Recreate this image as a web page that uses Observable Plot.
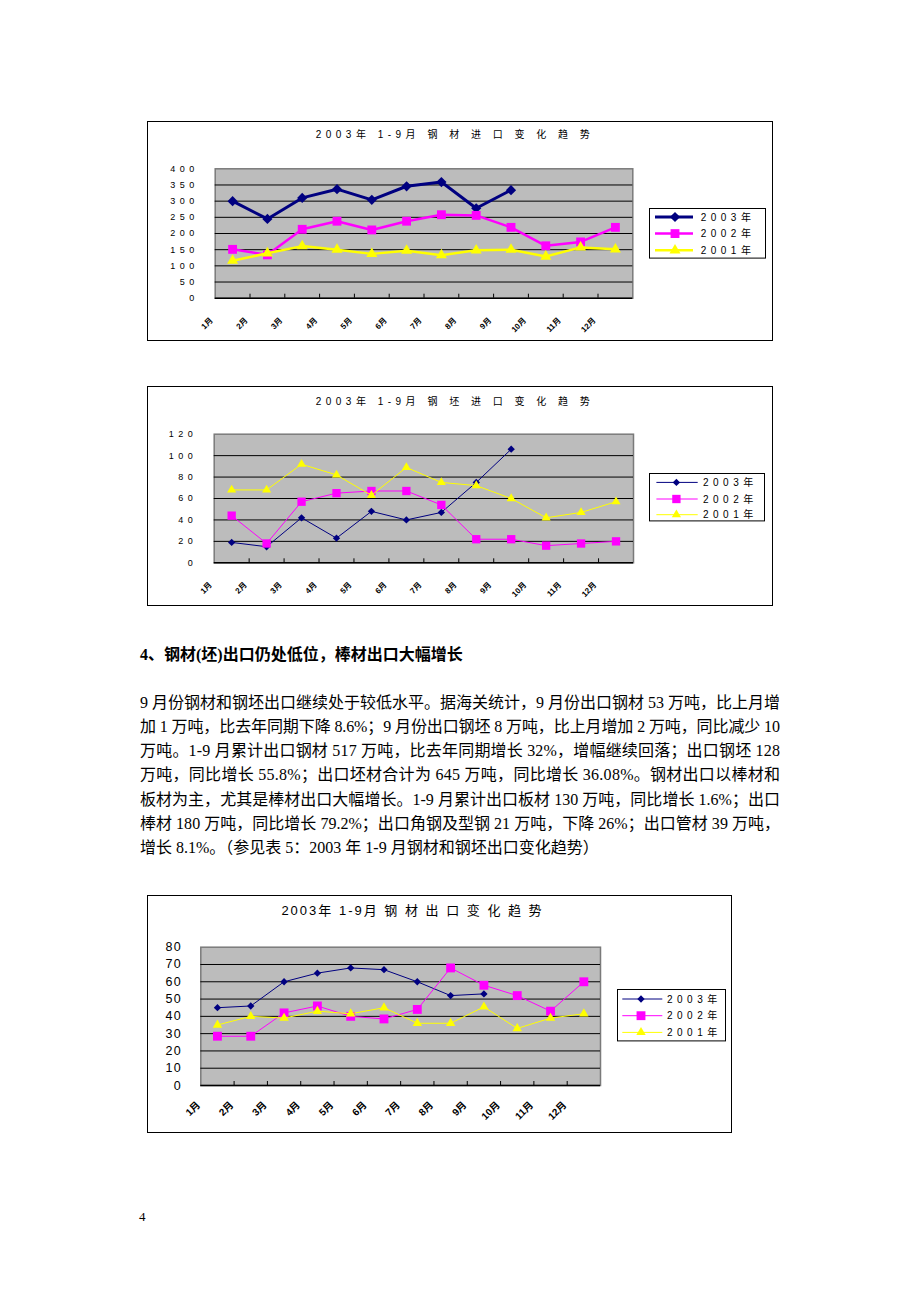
<!DOCTYPE html>
<html><head><meta charset="utf-8">
<script src="https://cdn.jsdelivr.net/npm/d3@7"></script>
<script src="https://cdn.jsdelivr.net/npm/@observablehq/plot@0.6"></script>
<style>
body{margin:0;background:#fff;width:920px;height:1302px;position:relative;overflow:hidden;font-family:"Liberation Serif","Noto Sans CJK SC",serif;color:#000;}
.frame{position:absolute;border:1px solid #000;box-sizing:border-box;}
.chart{position:absolute;}
.chart svg{background:transparent !important;overflow:visible;}
.ctitle{position:absolute;white-space:pre;font-family:"Liberation Sans","Noto Sans CJK SC",sans-serif;transform:translate(-50%,-50%);line-height:1;}
.c1 g[aria-label^="y-axis tick label"] text,.c2 g[aria-label^="y-axis tick label"] text{letter-spacing:4.5px;}
.c3 g[aria-label^="y-axis tick label"] text{letter-spacing:1.5px;}
.head{position:absolute;left:140px;top:645px;font-size:16px;font-weight:bold;line-height:20px;white-space:nowrap;}
.para{position:absolute;left:140px;top:690.5px;width:640px;font-size:16px;line-height:24.3px;}
.para div{height:24.3px;white-space:nowrap;}
.pageno{position:absolute;left:139px;top:1208px;font-size:13px;line-height:18px;}
</style>
</head><body>
<script>
// ---------- data ----------
const monthLabels = ["1月","2月","3月","4月","5月","6月","7月","8月","9月","10月","11月","12月"];
const seriesNames = ["2003年","2002年","2001年"];

// 2003年1-9月钢材进口变化趋势 (万吨)
const steelImp2003 = [300,245,310,337,304,346,359,278,334];
const steelImp2002 = [151,134,213,238,211,238,258,256,219,162,174,219];
const steelImp2001 = [116,139,161,150,137,147,133,148,150,129,157,151];
const steelImpTicks = [0,50,100,150,200,250,300,350,400];

// 2003年1-9月钢坯进口变化趋势
const billetImp2003 = [19,15,42,23,48,40,47,75,106];
const billetImp2002 = [44,18,57,65,67,67,54,22,22,16,18,20];
const billetImp2001 = [68,68,92,82,63,89,75,72,60,42,47,57];
const billetImpTicks = [0,20,40,60,80,100,120];

// 2003年1-9月钢材出口变化趋势
const steelExp2003 = [45,46,60,65,68,67,60,52,53];
const steelExp2002 = [28.5,28.5,42,46,40,38.5,44,68,58,52,43,60];
const steelExp2001 = [35,40,39,43,41.5,45,36,36,45.5,33,39,41.5];
const steelExpTicks = [0,10,20,30,40,50,60,70,80];

const colors = ["#000080","#ff00ff","#ffff00"];
const symbols = ["diamond2","square","triangle"];
const d3symbols = [d3.symbolDiamond2, d3.symbolSquare, d3.symbolTriangle];

function lineChart(o){
  const yMax = o.ticks[o.ticks.length-1];
  const inner = o.height - o.mt - o.mb;
  const marks = [
    Plot.frame({fill:"#bcbcbc", stroke:"#7a7a7a", strokeWidth:1.5}),
    Plot.ruleY(o.ticks.filter(t => t>0 && t<yMax), {stroke:"#000", strokeWidth:1}),
    Plot.ruleY([0], {stroke:"#000", strokeWidth:1.5}),
    Plot.ruleX(d3.range(1.5,12.5,1), {stroke:"#000", insetTop: inner-4}),
    Plot.axisY(o.ticks, {label:null, tickSize:0, tickPadding:o.yPad, fontSize:o.yFont, tickFormat:d=>String(d)}),
    Plot.axisX(d3.range(1,13), {label:null, tickSize:0, tickRotate:-45, tickFormat:i=>monthLabels[i-1], fontSize:o.xFont, fontWeight:"bold", dx:o.xdx, dy:o.xdy})
  ];
  o.values.forEach((vals,k) => {
    const d = vals.map((v,i)=>({m:i+1, v}));
    marks.push(Plot.line(d, {x:"m", y:"v", stroke:colors[k], strokeWidth:o.lw[k]}));
    marks.push(Plot.dot(d, {x:"m", y:"v", symbol:symbols[k], r:o.r[k], fill:colors[k]}));
  });
  const svg = Plot.plot({
    width:o.width, height:o.height,
    marginLeft:o.ml, marginRight:o.mr, marginTop:o.mt, marginBottom:o.mb,
    style:{fontFamily:'"Liberation Sans","Noto Sans CJK SC",sans-serif', fontSize:o.yFont+"px", color:"#000", background:"transparent"},
    x:{domain:[0.5,12.5], axis:null, label:null},
    y:{domain:[0,yMax], axis:null, label:null},
    marks
  });
  const div = document.createElement("div");
  div.className = "chart " + o.cls;
  div.style.left = o.left+"px"; div.style.top = o.top+"px";
  div.append(svg);
  document.body.append(div);
  const fr = document.createElement("div");
  fr.className = "frame";
  Object.assign(fr.style, {left:o.left+"px", top:o.top+"px", width:o.width+"px", height:o.height+"px"});
  document.body.insertBefore(fr, div);
  const t = document.createElement("div");
  t.className = "ctitle";
  t.textContent = o.title;
  Object.assign(t.style, {left:o.titleX+"px", top:o.titleY+"px", fontSize:o.titleFont+"px", letterSpacing:o.titleLs+"px"});
  document.body.append(t);
  legend(o.legend, o.lw, o.r);
}

function legend(L, lw, r){
  const svg = d3.create("svg").attr("width",L.w).attr("height",L.h)
    .style("position","absolute").style("left",L.left+"px").style("top",L.top+"px").style("overflow","visible");
  svg.append("rect").attr("x",0.5).attr("y",0.5).attr("width",L.w-1).attr("height",L.h-1).attr("fill","#fff").attr("stroke","#000");
  seriesNames.forEach((name,k)=>{
    const y = L.rows[k]-L.top;
    svg.append("line").attr("x1",L.x1-L.left).attr("x2",L.x2-L.left).attr("y1",y).attr("y2",y).attr("stroke",colors[k]).attr("stroke-width",lw[k]);
    svg.append("path").attr("transform",`translate(${L.mx-L.left},${y})`).attr("d",d3.symbol(d3symbols[k], r[k]*r[k]*Math.PI)()).attr("fill",colors[k]);
    svg.append("text").attr("x",L.tx-L.left).attr("y",y).attr("dy","0.36em").text(name)
      .style("font-family",'"Liberation Sans","Noto Sans CJK SC",sans-serif').style("font-size",L.font+"px").style("letter-spacing",L.ls+"px");
  });
  document.body.append(svg.node());
}

lineChart({
  cls:"c1", left:147, top:121, width:626, height:220, ml:67.7, mr:140.7, mt:47.3, mb:43.3,
  ticks:steelImpTicks, values:[steelImp2003, steelImp2002, steelImp2001],
  lw:[3,2.5,2.5], r:[4.6,5,4.1], yFont:9, yPad:16.5, xFont:8, xdx:-21, xdy:9,
  title:"2003年 1-9月 钢 材 进 口 变 化 趋 势", titleX:455, titleY:135, titleFont:10, titleLs:4.5,
  legend:{left:649, top:207.7, w:117, h:50.6, rows:[216.7,233.3,250], x1:655, x2:693, mx:675, tx:700.7, font:10, ls:4.5}
});

lineChart({
  cls:"c2", left:147, top:386, width:626, height:220, ml:66.7, mr:140, mt:47.7, mb:43.7,
  ticks:billetImpTicks, values:[billetImp2003, billetImp2002, billetImp2001],
  lw:[1,1,1], r:[3.3,4.7,3.4], yFont:9, yPad:17, xFont:8, xdx:-21, xdy:9,
  title:"2003年 1-9月 钢 坯 进 口 变 化 趋 势", titleX:455, titleY:401.7, titleFont:10, titleLs:4.5,
  legend:{left:649.3, top:473.3, w:116, h:48.4, rows:[482.7,499.3,515], x1:656.7, x2:698, mx:676.7, tx:703.3, font:10, ls:4.5}
});

lineChart({
  cls:"c3", left:147, top:895, width:585, height:238, ml:53.3, mr:132, mt:51.7, mb:48,
  ticks:steelExpTicks, values:[steelExp2003, steelExp2002, steelExp2001],
  lw:[1,1,1], r:[3.3,5,3.5], yFont:12.5, yPad:18.5, xFont:10, xdx:-19, xdy:6,
  title:"2003年 1-9月 钢 材 出 口 变 化 趋 势", titleX:412.5, titleY:910, titleFont:13, titleLs:2,
  legend:{left:616.7, top:989.3, w:109, h:52.4, rows:[999.3,1016,1032.7], x1:622, x2:662, mx:640.7, tx:666.7, font:10, ls:4.5}
});
</script>
<div class="head">4、钢材(坯)出口仍处低位，棒材出口大幅增长</div>
<div class="para">
<div class="j">9 月份钢材和钢坯出口继续处于较低水平。据海关统计，9 月份出口钢材 53 万吨，比上月增</div>
<div class="j">加 1 万吨，比去年同期下降 8.6%；9 月份出口钢坯 8 万吨，比上月增加 2 万吨，同比减少 10</div>
<div class="j">万吨。1-9 月累计出口钢材 517 万吨，比去年同期增长 32%，增幅继续回落；出口钢坯 128</div>
<div class="j">万吨，同比增长 55.8%；出口坯材合计为 645 万吨，同比增长 36.08%。钢材出口以棒材和</div>
<div class="j">板材为主，尤其是棒材出口大幅增长。1-9 月累计出口板材 130 万吨，同比增长 1.6%；出口</div>
<div class="j">棒材 180 万吨，同比增长 79.2%；出口角钢及型钢 21 万吨，下降 26%；出口管材 39 万吨，</div>
<div>增长 8.1%。（参见表 5：2003 年 1-9 月钢材和钢坯出口变化趋势）</div>
</div>
<div class="pageno">4</div>
<script>
document.querySelectorAll(".para div").forEach(d => {
  const span = document.createElement("span");
  span.textContent = d.textContent;
  d.textContent = "";
  d.append(span);
  if (d.classList.contains("j")) {
    const w = span.getBoundingClientRect().width;
    const n = span.textContent.length;
    span.style.letterSpacing = ((640 - w) / (n - 1)) + "px";
  }
});
</script>
</body></html>
